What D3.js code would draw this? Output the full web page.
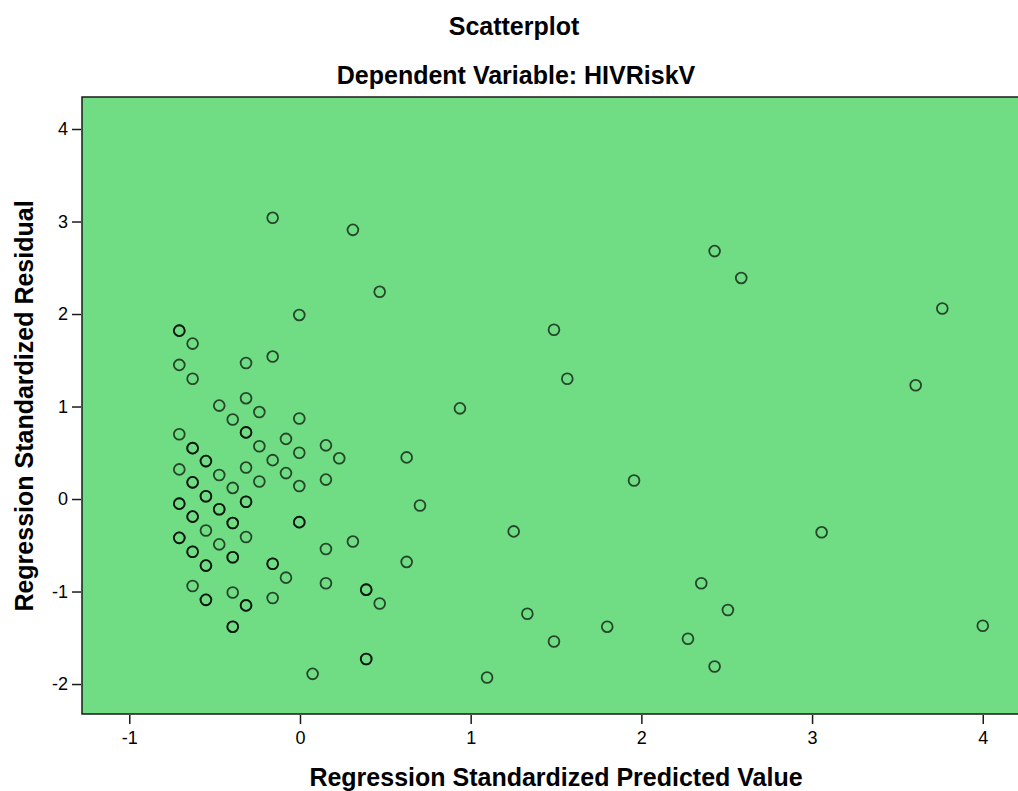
<!DOCTYPE html>
<html>
<head>
<meta charset="utf-8">
<script src="https://cdn.jsdelivr.net/npm/d3@7"></script>
<style>
  html, body { margin: 0; padding: 0; background: #fff; }
  svg { display: block; }
  text { font-family: "Liberation Sans", Arial, sans-serif; fill: #000; }
</style>
</head>
<body>
<svg id="chart" width="1018" height="791"></svg>
<script>
// ---- data ----
const title = "Scatterplot";
const subtitle = "Dependent Variable: HIVRiskV";
const xLabel = "Regression Standardized Predicted Value";
const yLabel = "Regression Standardized Residual";
const xTicks = [-1, 0, 1, 2, 3, 4];
const yTicks = [-2, -1, 0, 1, 2, 3, 4];

// Regression standardized predicted value (x) and residual (y), paired by index
const predicted = [
  -0.707,-0.707,-0.707,-0.707,-0.707,-0.707,
  -0.629,-0.629,-0.629,-0.629,-0.629,-0.629,-0.629,
  -0.551,-0.551,-0.551,-0.551,-0.551,
  -0.473,-0.473,-0.473,-0.473,
  -0.394,-0.394,-0.394,-0.394,-0.394,-0.394,
  -0.316,-0.316,-0.316,-0.316,-0.316,-0.316,-0.316,
  -0.238,-0.238,-0.238,
  -0.160,-0.160,-0.160,-0.160,-0.160,
  -0.082,-0.082,-0.082,
  -0.004,-0.004,-0.004,-0.004,-0.004,
  0.074,
  0.152,0.152,0.152,0.152,
  0.230,
  0.310,0.310,
  0.388,0.388,
  0.467,0.467,
  0.625,0.625,
  0.703,
  0.937, 1.096, 1.252, 1.332, 1.488, 1.488, 1.566, 1.800, 1.957,
  2.273, 2.351, 2.429, 2.429, 2.507, 2.585,
  3.056, 3.607, 3.763, 4.000,
  // overlapping (repeated) cases
  -0.707,-0.707,-0.707,
  -0.629,-0.629,-0.629,-0.629,
  -0.551,-0.551,-0.551,-0.551,
  -0.473,
  -0.394,-0.394,-0.394,
  -0.316,-0.316,-0.316,
  -0.160,
  -0.004,
  0.388,0.388
];
const residual = [
  1.82, 1.45, 0.70, 0.32, -0.05, -0.42,
  1.68, 1.30, 0.55, 0.18, -0.19, -0.57, -0.94,
  0.41, 0.03, -0.34, -0.72, -1.09,
  1.01, 0.26, -0.11, -0.49,
  0.86, 0.12, -0.26, -0.63, -1.01, -1.38,
  1.47, 1.09, 0.72, 0.34, -0.03, -0.41, -1.15,
  0.94, 0.57, 0.19,
  3.04, 1.54, 0.42, -0.70, -1.07,
  0.65, 0.28, -0.85,
  1.99, 0.87, 0.50, 0.14, -0.25,
  -1.89,
  0.58, 0.21, -0.54, -0.91,
  0.44,
  2.91, -0.46,
  -0.98, -1.73,
  2.24, -1.13,
  0.45, -0.68,
  -0.07,
  0.98, -1.93, -0.35, -1.24, 1.83, -1.54, 1.30, -1.38, 0.20,
  -1.51, -0.91, 2.68, -1.81, -1.20, 2.39,
  -0.36, 1.23, 2.06, -1.37,
  // overlapping (repeated) cases
  1.82, -0.05, -0.42,
  0.55, 0.18, -0.19, -0.57,
  0.41, 0.03, -0.72, -1.09,
  -0.11,
  -0.26, -0.63, -1.38,
  0.72, -0.03, -1.15,
  -0.70,
  -0.25,
  -0.98, -1.73
];

// ---- layout ----
const svg = d3.select("#chart");
const plot = { left: 82, top: 97, right: 1021, bottom: 714 };

const x = d3.scaleLinear().domain([-1.277, 4.224]).range([plot.left, plot.right]);
const y = d3.scaleLinear().domain([-2.324, 4.346]).range([plot.bottom, plot.top]);

// background
svg.append("rect")
  .attr("x", plot.left).attr("y", plot.top)
  .attr("width", plot.right - plot.left).attr("height", plot.bottom - plot.top)
  .attr("fill", "#70dc84")
  .attr("stroke", "#1a1a1a").attr("stroke-width", 1.5);

// axes (hyphen minus, as in the reference)
const fmt = d => String(d);
const xAxis = svg.append("g")
  .attr("transform", `translate(0,${plot.bottom + 1})`)
  .call(d3.axisBottom(x).tickValues(xTicks).tickSize(9).tickPadding(7).tickFormat(fmt));
const yAxis = svg.append("g")
  .attr("transform", `translate(${plot.left - 1},0)`)
  .call(d3.axisLeft(y).tickValues(yTicks).tickSize(9).tickPadding(4).tickFormat(fmt));

[xAxis, yAxis].forEach(g => {
  g.select(".domain").remove();
  g.selectAll(".tick line").attr("stroke", "#1a1a1a").attr("stroke-width", 1.5);
  g.selectAll(".tick text")
    .attr("font-family", "'Liberation Sans', Arial, sans-serif")
    .attr("font-size", 18)
    .attr("fill", "#000");
});

// points
const pts = predicted.map((p, i) => ({ p, r: residual[i] }));
svg.append("g")
  .selectAll("circle")
  .data(pts)
  .join("circle")
  .attr("cx", d => x(d.p))
  .attr("cy", d => y(d.r))
  .attr("r", 5.4)
  .attr("fill", "none")
  .attr("stroke", "#000")
  .attr("stroke-opacity", 0.68)
  .attr("stroke-width", 1.8);

// titles
svg.append("text")
  .attr("x", 514).attr("y", 35)
  .attr("text-anchor", "middle")
  .attr("font-size", 25).attr("font-weight", "bold")
  .text(title);
svg.append("text")
  .attr("x", 516).attr("y", 84)
  .attr("text-anchor", "middle")
  .attr("font-size", 25).attr("font-weight", "bold")
  .text(subtitle);

// axis labels
svg.append("text")
  .attr("x", 556).attr("y", 786)
  .attr("text-anchor", "middle")
  .attr("font-size", 25).attr("font-weight", "bold")
  .text(xLabel);
svg.append("text")
  .attr("transform", "translate(33,406) rotate(-90)")
  .attr("text-anchor", "middle")
  .attr("font-size", 25).attr("font-weight", "bold")
  .text(yLabel);
</script>
</body>
</html>
